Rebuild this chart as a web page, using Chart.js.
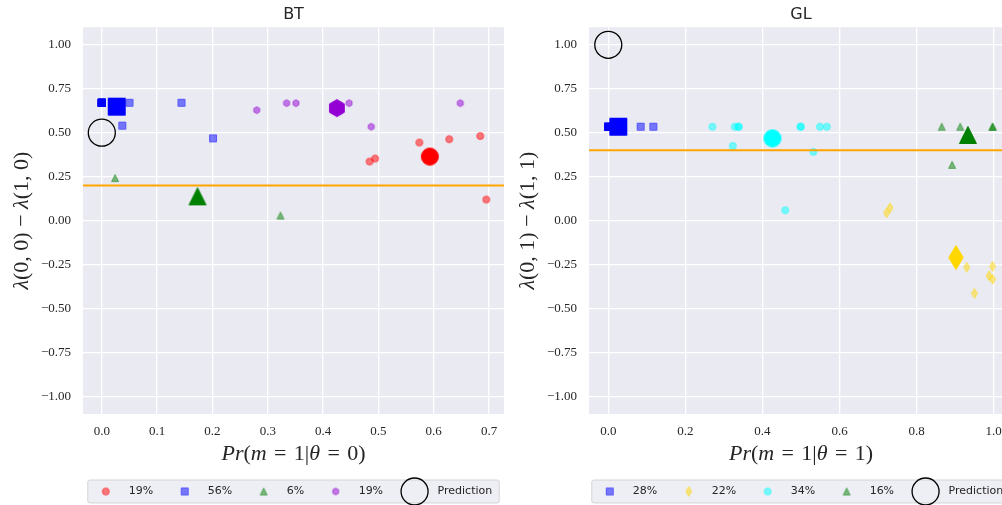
<!DOCTYPE html>
<html>
<head>
<meta charset="utf-8">
<script src="https://cdn.jsdelivr.net/npm/chart.js@4.4.1/dist/chart.umd.min.js"></script>
<style>
  html, body { margin: 0; padding: 0; background: #fff; overflow: hidden; width: 1002px; height: 505px; }
  canvas { position: absolute; top: 0; }
</style>
</head>
<body>
<canvas id="bt" width="510" height="505" style="left:0"></canvas>
<canvas id="gl" width="512" height="505" style="left:510px"></canvas>
<script>
// ---- BT panel data ----
const btRedX = [0.484, 0.494, 0.574, 0.628, 0.684, 0.695];
const btRedY = [0.336, 0.353, 0.444, 0.463, 0.481, 0.120];
const btBlueX = [0, 0, 0, 0, 0, 0, 0, 0, 0, 0, 0, 0, 0, 0, 0.050, 0.144, 0.037, 0.201];
const btBlueY = [0.67, 0.67, 0.67, 0.67, 0.67, 0.67, 0.67, 0.67, 0.67, 0.67, 0.67, 0.67, 0.67, 0.67, 0.67, 0.67, 0.54, 0.468];
const btGreenX = [0.024, 0.323];
const btGreenY = [0.242, 0.029];
const btPurpleX = [0.280, 0.334, 0.351, 0.447, 0.487, 0.648];
const btPurpleY = [0.628, 0.668, 0.668, 0.668, 0.534, 0.668];
const btMeanX = [0.593, 0.027, 0.173, 0.425];   // red, blue, green, purple
const btMeanY = [0.364, 0.648, 0.138, 0.640];
const btPrediction = [0, 0.5];
const btThreshold = 0.2;
const btLabels = ['19%', '56%', '6%', '19%', 'Prediction'];

// ---- GL panel data ----
const glBlueX = [0, 0, 0, 0, 0, 0, 0, 0.084, 0.117];
const glBlueY = [0.534, 0.534, 0.534, 0.534, 0.534, 0.534, 0.534, 0.534, 0.534];
const glYellowX = [0.722, 0.731, 0.930, 0.997, 0.988, 0.997, 0.950];
const glYellowY = [0.044, 0.073, -0.265, -0.261, -0.314, -0.333, -0.414];
const glCyanX = [0.270, 0.328, 0.338, 0.338, 0.323, 0.499, 0.499, 0.549, 0.567, 0.532, 0.459];
const glCyanY = [0.534, 0.534, 0.534, 0.534, 0.425, 0.534, 0.534, 0.534, 0.534, 0.391, 0.059];
const glGreenX = [0.865, 0.913, 0.997, 0.997, 0.892];
const glGreenY = [0.534, 0.534, 0.534, 0.534, 0.317];
const glMeanX = [0.026, 0.902, 0.426, 0.933];   // blue, yellow, cyan, green
const glMeanY = [0.534, -0.210, 0.468, 0.487];
const glPrediction = [0, 1.0];
const glThreshold = 0.4;
const glLabels = ['28%', '22%', '34%', '16%', 'Prediction'];

const yTicks = { min: -1.1, max: 1.1, step: 0.25 };

// matplotlib-like marker drawn on a small canvas
function marker(shape, size, color, alpha) {
  const w = Math.ceil(size * 1.6) + 4;
  const c = document.createElement('canvas');
  c.width = w; c.height = w;
  const g = c.getContext('2d');
  const m = w / 2, r = size / 2;
  g.beginPath();
  if (shape === 'o') {
    g.arc(m, m, r, 0, Math.PI * 2);
  } else if (shape === 's') {
    g.rect(m - r, m - r, size, size);
  } else if (shape === '^') {
    g.moveTo(m, m - r); g.lineTo(m + r, m + r); g.lineTo(m - r, m + r); g.closePath();
  } else if (shape === 'h') {
    for (let k = 0; k < 6; k++) {
      const a = Math.PI / 2 + k * Math.PI / 3;
      g.lineTo(m + r * Math.cos(a), m - r * Math.sin(a));
    }
    g.closePath();
  } else if (shape === 'd') {
    const h = r * Math.SQRT2;
    g.moveTo(m, m - h); g.lineTo(m + 0.6 * h, m); g.lineTo(m, m + h); g.lineTo(m - 0.6 * h, m); g.closePath();
  }
  g.globalAlpha = alpha;
  g.fillStyle = color;
  g.fill();
  g.lineWidth = 1;
  g.strokeStyle = color;
  g.stroke();
  return c;
}

const SMALL = 7, BIG = 17;
const pts = (xs, ys) => xs.map((x, i) => ({ x: x, y: ys[i] }));

function groupSets(groups, meanX, meanY) {
  const sets = [];
  groups.forEach((gr, i) => {
    sets.push({ data: pts(gr.x, gr.y), pointStyle: marker(gr.shape, SMALL, gr.color, 0.5), pointRadius: 4, order: 2 });
    sets.push({ data: [{ x: meanX[i], y: meanY[i] }], pointStyle: marker(gr.shape, BIG, gr.color, 1), pointRadius: 9, order: 1 });
  });
  return sets;
}

// mixed italic / upright label, like the LaTeX axis labels
function drawMath(ctx, segs, cx, cy) {
  const size = 22;
  const fonts = { i: 'italic ' + size + 'px "Liberation Serif"', n: size + 'px "Liberation Serif"' };
  let total = 0;
  segs.forEach(s => { ctx.font = fonts[s[1]]; total += ctx.measureText(s[0]).width; });
  let x = cx - total / 2;
  ctx.fillStyle = '#262626';
  ctx.textBaseline = 'middle';
  ctx.textAlign = 'left';
  segs.forEach(s => { ctx.font = fonts[s[1]]; ctx.fillText(s[0], x, cy); x += ctx.measureText(s[0]).width; });
}

const deco = {
  id: 'deco',
  beforeDraw(chart) {
    const { ctx, chartArea: a } = chart;
    ctx.save();
    ctx.fillStyle = '#eaeaf2';
    ctx.fillRect(a.left, a.top, a.right - a.left, a.bottom - a.top);
    ctx.restore();
  },
  afterDraw(chart, args, o) {
    const { ctx, chartArea: a } = chart;
    const cx = (a.left + a.right) / 2;
    ctx.save();
    drawMath(ctx, o.xLabel, cx, a.bottom + 40);
    ctx.save();
    ctx.translate(a.left - 61, (a.top + a.bottom) / 2);
    ctx.rotate(-Math.PI / 2);
    drawMath(ctx, o.yLabel, 0, 0);
    ctx.restore();

    // legend box
    ctx.font = '11px "DejaVu Sans"';
    const widths = o.labels.map(t => ctx.measureText(t).width);
    let total = 18 + 7;
    widths.forEach((w, i) => { total += 23 + w + (i < widths.length - 1 ? 31.5 : 0); });
    const left = cx - total / 2, top = a.bottom + 66, h = 23, yc = top + 11.5;
    ctx.beginPath();
    ctx.roundRect(left, top, total, h, 2);
    ctx.fillStyle = 'rgba(234,234,242,0.8)';
    ctx.fill();
    ctx.strokeStyle = 'rgba(204,204,204,0.8)';
    ctx.lineWidth = 1;
    ctx.stroke();
    let x = left + 18;
    o.labels.forEach((t, i) => {
      const img = o.markers[i];
      if (img) {
        ctx.drawImage(img, x - img.width / 2, yc - img.height / 2);
      } else {
        ctx.beginPath();
        ctx.arc(x, yc, 13.5, 0, Math.PI * 2);
        ctx.strokeStyle = '#000';
        ctx.lineWidth = 1.3;
        ctx.stroke();
      }
      ctx.fillStyle = '#262626';
      ctx.textBaseline = 'middle';
      ctx.textAlign = 'left';
      ctx.fillText(t, x + 23, yc);
      x += 23 + widths[i] + 31.5;
    });
    ctx.restore();
  }
};

function makeChart(id, cfg) {
  const tickFont = { family: 'Liberation Serif', size: 13 };
  const grid = { color: '#ffffff', lineWidth: 1.3, drawTicks: false };
  const datasets = groupSets(cfg.groups, cfg.meanX, cfg.meanY);
  datasets.push({
    data: [{ x: cfg.prediction[0], y: cfg.prediction[1] }],
    pointStyle: 'circle', pointRadius: 13.5, borderColor: '#000', borderWidth: 1.3,
    backgroundColor: 'rgba(0,0,0,0)', order: 1
  });
  datasets.push({
    data: [{ x: cfg.xMin, y: cfg.threshold }, { x: cfg.xMax, y: cfg.threshold }],
    showLine: true, borderColor: '#ffa500', borderWidth: 2, pointRadius: 0, order: 0
  });
  return new Chart(document.getElementById(id), {
    type: 'scatter',
    data: { datasets: datasets },
    options: {
      responsive: false,
      animation: false,
      events: [],
      layout: { autoPadding: false, padding: { left: 0, right: cfg.padRight, top: 0, bottom: 0 } },
      scales: {
        x: {
          type: 'linear', min: cfg.xMin, max: cfg.xMax,
          ticks: { stepSize: cfg.xStep, includeBounds: false, padding: 10, color: '#262626', font: tickFont,
                   callback: v => v.toFixed(1) },
          grid: grid, border: { display: false },
          afterFit: s => { s.height = 91; s.paddingLeft = 0; s.paddingRight = 0; }
        },
        y: {
          type: 'linear', min: yTicks.min, max: yTicks.max,
          ticks: { stepSize: yTicks.step, includeBounds: false, padding: 12, color: '#262626', font: tickFont,
                   callback: v => v.toFixed(2).replace('-', '\u2212') },
          grid: grid, border: { display: false },
          afterFit: s => { s.width = cfg.yWidth; s.paddingTop = 0; s.paddingBottom = 0; }
        }
      },
      plugins: {
        legend: { display: false },
        tooltip: { enabled: false },
        title: { display: true, text: cfg.title, fullSize: false, color: '#262626',
                 font: { family: 'DejaVu Sans', size: 16, weight: 'normal' }, padding: { top: 5, bottom: 3 } },
        deco: { xLabel: cfg.xLabel, yLabel: cfg.yLabel, labels: cfg.labels, markers: cfg.legendMarkers }
      }
    },
    plugins: [deco]
  });
}

const btGroups = [
  { x: btRedX, y: btRedY, shape: 'o', color: '#ff0000' },
  { x: btBlueX, y: btBlueY, shape: 's', color: '#0000ff' },
  { x: btGreenX, y: btGreenY, shape: '^', color: '#008000' },
  { x: btPurpleX, y: btPurpleY, shape: 'h', color: '#9400d3' }
];
const glGroups = [
  { x: glBlueX, y: glBlueY, shape: 's', color: '#0000ff' },
  { x: glYellowX, y: glYellowY, shape: 'd', color: '#ffd700' },
  { x: glCyanX, y: glCyanY, shape: 'o', color: '#00ffff' },
  { x: glGreenX, y: glGreenY, shape: '^', color: '#008000' }
];

const SP = '\u2004';
makeChart('bt', {
  title: 'BT', groups: btGroups, meanX: btMeanX, meanY: btMeanY,
  prediction: btPrediction, threshold: btThreshold,
  xMin: -0.034, xMax: 0.727, xStep: 0.1, yWidth: 83, padRight: 6,
  labels: btLabels,
  legendMarkers: btGroups.map(g => marker(g.shape, SMALL, g.color, 0.5)).concat([null]),
  xLabel: [['Pr', 'i'], ['(', 'n'], ['m', 'i'], [SP + '=' + SP + '1|', 'n'], ['\u03b8', 'i'], [SP + '=' + SP + '0)', 'n']],
  yLabel: [['\u03bb', 'i'], ['(0, 0) \u2212 ', 'n'], ['\u03bb', 'i'], ['(1, 0)', 'n']]
});

makeChart('gl', {
  title: 'GL', groups: glGroups, meanX: glMeanX, meanY: glMeanY,
  prediction: glPrediction, threshold: glThreshold,
  xMin: -0.05, xMax: 1.05, xStep: 0.2, yWidth: 79, padRight: 9,
  labels: glLabels,
  legendMarkers: glGroups.map(g => marker(g.shape, SMALL, g.color, 0.5)).concat([null]),
  xLabel: [['Pr', 'i'], ['(', 'n'], ['m', 'i'], [SP + '=' + SP + '1|', 'n'], ['\u03b8', 'i'], [SP + '=' + SP + '1)', 'n']],
  yLabel: [['\u03bb', 'i'], ['(0, 1) \u2212 ', 'n'], ['\u03bb', 'i'], ['(1, 1)', 'n']]
});
</script>
</body>
</html>
